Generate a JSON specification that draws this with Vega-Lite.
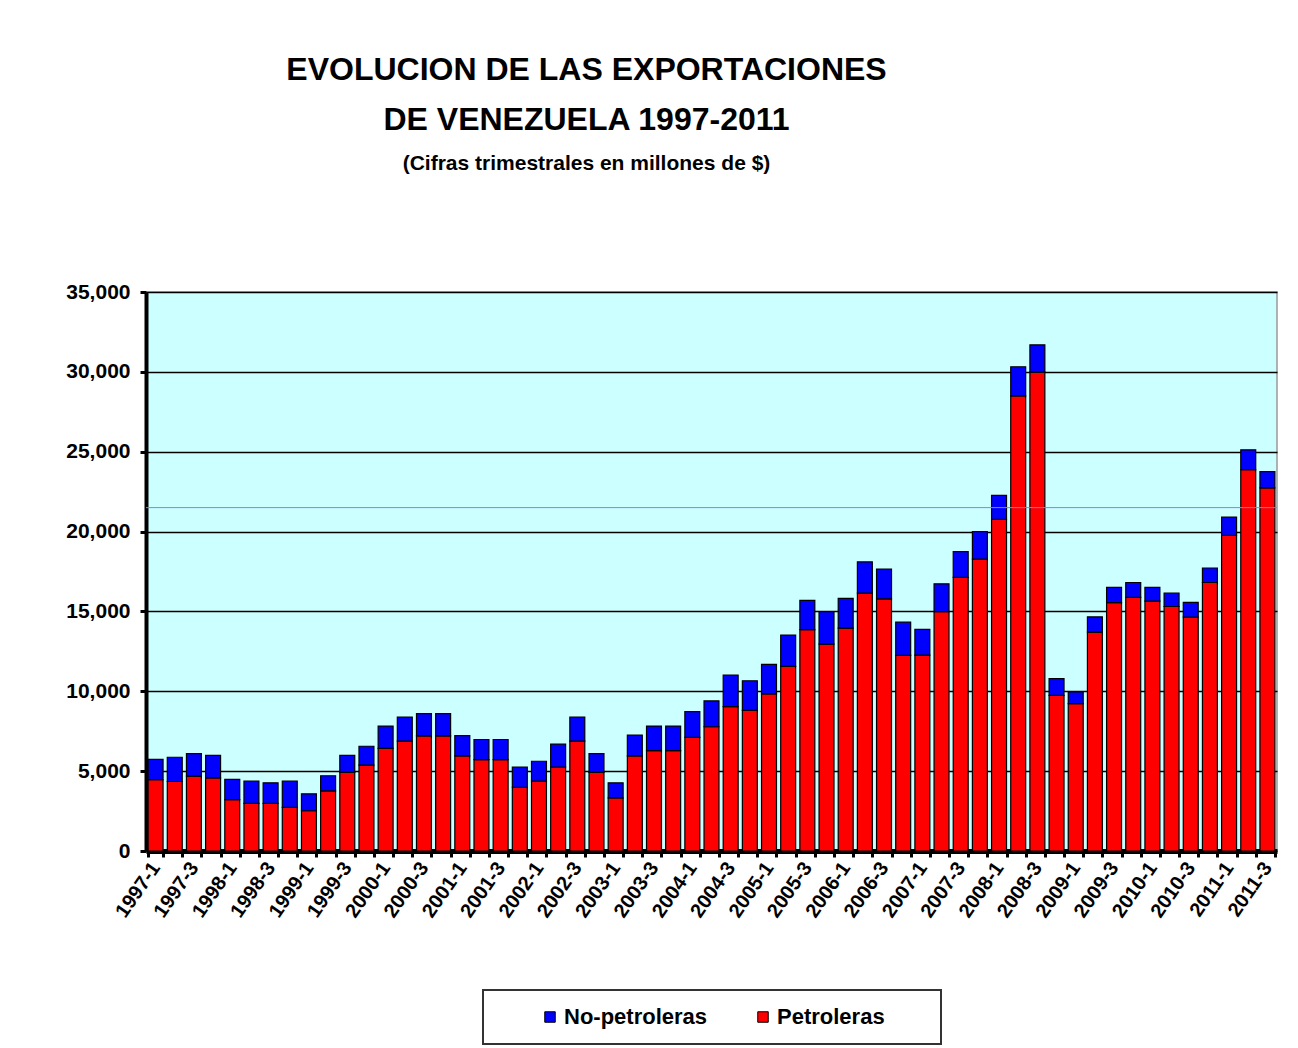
{
  "$schema": "https://vega.github.io/schema/vega-lite/v6.json",
  "width": 1131,
  "height": 559,
  "autosize": {"type": "none"},
  "padding": {"left": 146, "top": 292, "right": 21, "bottom": 197},
  "background": "white",
  "title": {
    "text": ["EVOLUCION DE LAS EXPORTACIONES", "DE VENEZUELA 1997-2011"],
    "subtitle": "(Cifras trimestrales en millones de $)",
    "anchor": "middle",
    "dx": -125,
    "font": "Liberation Sans, Arial, sans-serif",
    "fontSize": 32,
    "fontWeight": "bold",
    "color": "#000000",
    "lineHeight": 50,
    "subtitleFont": "Liberation Sans, Arial, sans-serif",
    "subtitleFontSize": 21,
    "subtitleFontWeight": "bold",
    "subtitleColor": "#000000",
    "subtitlePadding": 16,
    "offset": 106
  },
  "datasets": {
    "export": [
      {"trimestre": "1997-1", "tipo": "Petroleras", "valor": 4460}, {"trimestre": "1997-1", "tipo": "No-petroleras", "valor": 1280},
      {"trimestre": "1997-2", "tipo": "Petroleras", "valor": 4350}, {"trimestre": "1997-2", "tipo": "No-petroleras", "valor": 1520},
      {"trimestre": "1997-3", "tipo": "Petroleras", "valor": 4690}, {"trimestre": "1997-3", "tipo": "No-petroleras", "valor": 1410},
      {"trimestre": "1997-4", "tipo": "Petroleras", "valor": 4580}, {"trimestre": "1997-4", "tipo": "No-petroleras", "valor": 1410},
      {"trimestre": "1998-1", "tipo": "Petroleras", "valor": 3220}, {"trimestre": "1998-1", "tipo": "No-petroleras", "valor": 1260},
      {"trimestre": "1998-2", "tipo": "Petroleras", "valor": 2980}, {"trimestre": "1998-2", "tipo": "No-petroleras", "valor": 1390},
      {"trimestre": "1998-3", "tipo": "Petroleras", "valor": 2980}, {"trimestre": "1998-3", "tipo": "No-petroleras", "valor": 1290},
      {"trimestre": "1998-4", "tipo": "Petroleras", "valor": 2730}, {"trimestre": "1998-4", "tipo": "No-petroleras", "valor": 1640},
      {"trimestre": "1999-1", "tipo": "Petroleras", "valor": 2520}, {"trimestre": "1999-1", "tipo": "No-petroleras", "valor": 1060},
      {"trimestre": "1999-2", "tipo": "Petroleras", "valor": 3770}, {"trimestre": "1999-2", "tipo": "No-petroleras", "valor": 940},
      {"trimestre": "1999-3", "tipo": "Petroleras", "valor": 4920}, {"trimestre": "1999-3", "tipo": "No-petroleras", "valor": 1070},
      {"trimestre": "1999-4", "tipo": "Petroleras", "valor": 5380}, {"trimestre": "1999-4", "tipo": "No-petroleras", "valor": 1180},
      {"trimestre": "2000-1", "tipo": "Petroleras", "valor": 6420}, {"trimestre": "2000-1", "tipo": "No-petroleras", "valor": 1400},
      {"trimestre": "2000-2", "tipo": "Petroleras", "valor": 6880}, {"trimestre": "2000-2", "tipo": "No-petroleras", "valor": 1510},
      {"trimestre": "2000-3", "tipo": "Petroleras", "valor": 7210}, {"trimestre": "2000-3", "tipo": "No-petroleras", "valor": 1390},
      {"trimestre": "2000-4", "tipo": "Petroleras", "valor": 7210}, {"trimestre": "2000-4", "tipo": "No-petroleras", "valor": 1390},
      {"trimestre": "2001-1", "tipo": "Petroleras", "valor": 5950}, {"trimestre": "2001-1", "tipo": "No-petroleras", "valor": 1280},
      {"trimestre": "2001-2", "tipo": "Petroleras", "valor": 5720}, {"trimestre": "2001-2", "tipo": "No-petroleras", "valor": 1260},
      {"trimestre": "2001-3", "tipo": "Petroleras", "valor": 5720}, {"trimestre": "2001-3", "tipo": "No-petroleras", "valor": 1260},
      {"trimestre": "2001-4", "tipo": "Petroleras", "valor": 3990}, {"trimestre": "2001-4", "tipo": "No-petroleras", "valor": 1270},
      {"trimestre": "2002-1", "tipo": "Petroleras", "valor": 4370}, {"trimestre": "2002-1", "tipo": "No-petroleras", "valor": 1250},
      {"trimestre": "2002-2", "tipo": "Petroleras", "valor": 5260}, {"trimestre": "2002-2", "tipo": "No-petroleras", "valor": 1430},
      {"trimestre": "2002-3", "tipo": "Petroleras", "valor": 6880}, {"trimestre": "2002-3", "tipo": "No-petroleras", "valor": 1510},
      {"trimestre": "2002-4", "tipo": "Petroleras", "valor": 4920}, {"trimestre": "2002-4", "tipo": "No-petroleras", "valor": 1180},
      {"trimestre": "2003-1", "tipo": "Petroleras", "valor": 3320}, {"trimestre": "2003-1", "tipo": "No-petroleras", "valor": 950},
      {"trimestre": "2003-2", "tipo": "Petroleras", "valor": 5950}, {"trimestre": "2003-2", "tipo": "No-petroleras", "valor": 1310},
      {"trimestre": "2003-3", "tipo": "Petroleras", "valor": 6290}, {"trimestre": "2003-3", "tipo": "No-petroleras", "valor": 1530},
      {"trimestre": "2003-4", "tipo": "Petroleras", "valor": 6290}, {"trimestre": "2003-4", "tipo": "No-petroleras", "valor": 1530},
      {"trimestre": "2004-1", "tipo": "Petroleras", "valor": 7110}, {"trimestre": "2004-1", "tipo": "No-petroleras", "valor": 1620},
      {"trimestre": "2004-2", "tipo": "Petroleras", "valor": 7780}, {"trimestre": "2004-2", "tipo": "No-petroleras", "valor": 1620},
      {"trimestre": "2004-3", "tipo": "Petroleras", "valor": 9040}, {"trimestre": "2004-3", "tipo": "No-petroleras", "valor": 1980},
      {"trimestre": "2004-4", "tipo": "Petroleras", "valor": 8810}, {"trimestre": "2004-4", "tipo": "No-petroleras", "valor": 1850},
      {"trimestre": "2005-1", "tipo": "Petroleras", "valor": 9840}, {"trimestre": "2005-1", "tipo": "No-petroleras", "valor": 1850},
      {"trimestre": "2005-2", "tipo": "Petroleras", "valor": 11560}, {"trimestre": "2005-2", "tipo": "No-petroleras", "valor": 1960},
      {"trimestre": "2005-3", "tipo": "Petroleras", "valor": 13860}, {"trimestre": "2005-3", "tipo": "No-petroleras", "valor": 1830},
      {"trimestre": "2005-4", "tipo": "Petroleras", "valor": 12950}, {"trimestre": "2005-4", "tipo": "No-petroleras", "valor": 2040},
      {"trimestre": "2006-1", "tipo": "Petroleras", "valor": 13960}, {"trimestre": "2006-1", "tipo": "No-petroleras", "valor": 1860},
      {"trimestre": "2006-2", "tipo": "Petroleras", "valor": 16150}, {"trimestre": "2006-2", "tipo": "No-petroleras", "valor": 1950},
      {"trimestre": "2006-3", "tipo": "Petroleras", "valor": 15790}, {"trimestre": "2006-3", "tipo": "No-petroleras", "valor": 1860},
      {"trimestre": "2006-4", "tipo": "Petroleras", "valor": 12250}, {"trimestre": "2006-4", "tipo": "No-petroleras", "valor": 2080},
      {"trimestre": "2007-1", "tipo": "Petroleras", "valor": 12270}, {"trimestre": "2007-1", "tipo": "No-petroleras", "valor": 1610},
      {"trimestre": "2007-2", "tipo": "Petroleras", "valor": 14990}, {"trimestre": "2007-2", "tipo": "No-petroleras", "valor": 1740},
      {"trimestre": "2007-3", "tipo": "Petroleras", "valor": 17130}, {"trimestre": "2007-3", "tipo": "No-petroleras", "valor": 1610},
      {"trimestre": "2007-4", "tipo": "Petroleras", "valor": 18270}, {"trimestre": "2007-4", "tipo": "No-petroleras", "valor": 1730},
      {"trimestre": "2008-1", "tipo": "Petroleras", "valor": 20770}, {"trimestre": "2008-1", "tipo": "No-petroleras", "valor": 1500},
      {"trimestre": "2008-2", "tipo": "Petroleras", "valor": 28500}, {"trimestre": "2008-2", "tipo": "No-petroleras", "valor": 1820},
      {"trimestre": "2008-3", "tipo": "Petroleras", "valor": 29980}, {"trimestre": "2008-3", "tipo": "No-petroleras", "valor": 1710},
      {"trimestre": "2008-4", "tipo": "Petroleras", "valor": 9750}, {"trimestre": "2008-4", "tipo": "No-petroleras", "valor": 1040},
      {"trimestre": "2009-1", "tipo": "Petroleras", "valor": 9230}, {"trimestre": "2009-1", "tipo": "No-petroleras", "valor": 730},
      {"trimestre": "2009-2", "tipo": "Petroleras", "valor": 13710}, {"trimestre": "2009-2", "tipo": "No-petroleras", "valor": 950},
      {"trimestre": "2009-3", "tipo": "Petroleras", "valor": 15550}, {"trimestre": "2009-3", "tipo": "No-petroleras", "valor": 950},
      {"trimestre": "2009-4", "tipo": "Petroleras", "valor": 15880}, {"trimestre": "2009-4", "tipo": "No-petroleras", "valor": 930},
      {"trimestre": "2010-1", "tipo": "Petroleras", "valor": 15650}, {"trimestre": "2010-1", "tipo": "No-petroleras", "valor": 850},
      {"trimestre": "2010-2", "tipo": "Petroleras", "valor": 15310}, {"trimestre": "2010-2", "tipo": "No-petroleras", "valor": 830},
      {"trimestre": "2010-3", "tipo": "Petroleras", "valor": 14640}, {"trimestre": "2010-3", "tipo": "No-petroleras", "valor": 930},
      {"trimestre": "2010-4", "tipo": "Petroleras", "valor": 16810}, {"trimestre": "2010-4", "tipo": "No-petroleras", "valor": 910},
      {"trimestre": "2011-1", "tipo": "Petroleras", "valor": 19770}, {"trimestre": "2011-1", "tipo": "No-petroleras", "valor": 1140},
      {"trimestre": "2011-2", "tipo": "Petroleras", "valor": 23870}, {"trimestre": "2011-2", "tipo": "No-petroleras", "valor": 1250},
      {"trimestre": "2011-3", "tipo": "Petroleras", "valor": 22730}, {"trimestre": "2011-3", "tipo": "No-petroleras", "valor": 1020}
    ],
    "linea": [{"nivel": 21500}]
  },
  "layer": [
    {
      "data": {"name": "export"},
      "mark": {"type": "bar", "stroke": "#000000", "strokeWidth": 1.2},
      "encoding": {
        "x": {
          "field": "trimestre",
          "type": "ordinal",
          "sort": null,
          "scale": {"paddingInner": 0.22, "paddingOuter": 0.11},
          "axis": {
            "title": null,
            "labelAngle": -55,
            "labelExpr": "test(/-[13]$/, datum.value) ? datum.value : ''",
            "labelOverlap": false,
            "tickBand": "extent",
            "tickSize": 6,
            "tickWidth": 3,
            "tickColor": "#000000",
            "domainColor": "#000000",
            "domainWidth": 5,
            "labelFont": "Liberation Sans, Arial, sans-serif",
            "labelFontSize": 20,
            "labelFontWeight": "bold",
            "labelColor": "#000000",
            "labelPadding": 7,
            "labelAlign": "right",
            "labelBaseline": "middle",
            "grid": false
          }
        },
        "y": {
          "field": "valor",
          "type": "quantitative",
          "stack": "zero",
          "scale": {"domain": [0, 35000], "nice": false},
          "axis": {
            "title": null,
            "values": [0, 5000, 10000, 15000, 20000, 25000, 30000, 35000],
            "format": ",.0f",
            "grid": true,
            "gridColor": "#000000",
            "gridWidth": 1.5,
            "domainColor": "#000000",
            "domainWidth": 4,
            "tickColor": "#000000",
            "tickWidth": 3,
            "tickSize": 6,
            "labelFont": "Liberation Sans, Arial, sans-serif",
            "labelFontSize": 21,
            "labelFontWeight": "bold",
            "labelColor": "#000000",
            "labelPadding": 10
          }
        },
        "color": {
          "field": "tipo",
          "type": "nominal",
          "scale": {"domain": ["No-petroleras", "Petroleras"], "range": ["#0000FF", "#FF0000"]},
          "legend": {
            "title": "\u00a0",
            "titleOrient": "right",
            "titlePadding": 40,
            "titleFontSize": 22,
            "orient": "none",
            "legendX": 337,
            "legendY": 698,
            "direction": "horizontal",
            "symbolType": "square",
            "symbolSize": 110,
            "symbolStrokeColor": "#000000",
            "symbolStrokeWidth": 1,
            "labelFont": "Liberation Sans, Arial, sans-serif",
            "labelFontSize": 22,
            "labelFontWeight": "bold",
            "labelColor": "#000000",
            "labelOffset": 3,
            "labelLimit": 400,
            "padding": 16,
            "strokeColor": "#333333",
            "fillColor": "#FFFFFF",
            "symbolOffset": 40,
            "columnPadding": 4
          }
        },
        "order": {"field": "tipo", "sort": "descending"}
      }
    },
    {
      "data": {"name": "linea"},
      "mark": {"type": "rule", "color": "#8080FF", "strokeWidth": 1},
      "encoding": {"y": {"field": "nivel", "type": "quantitative"}}
    }
  ],
  "config": {
    "view": {"fill": "#CCFFFF", "stroke": "#999999", "strokeWidth": 1.5},
    "legend": {"strokeWidth": 2}
  }
}
